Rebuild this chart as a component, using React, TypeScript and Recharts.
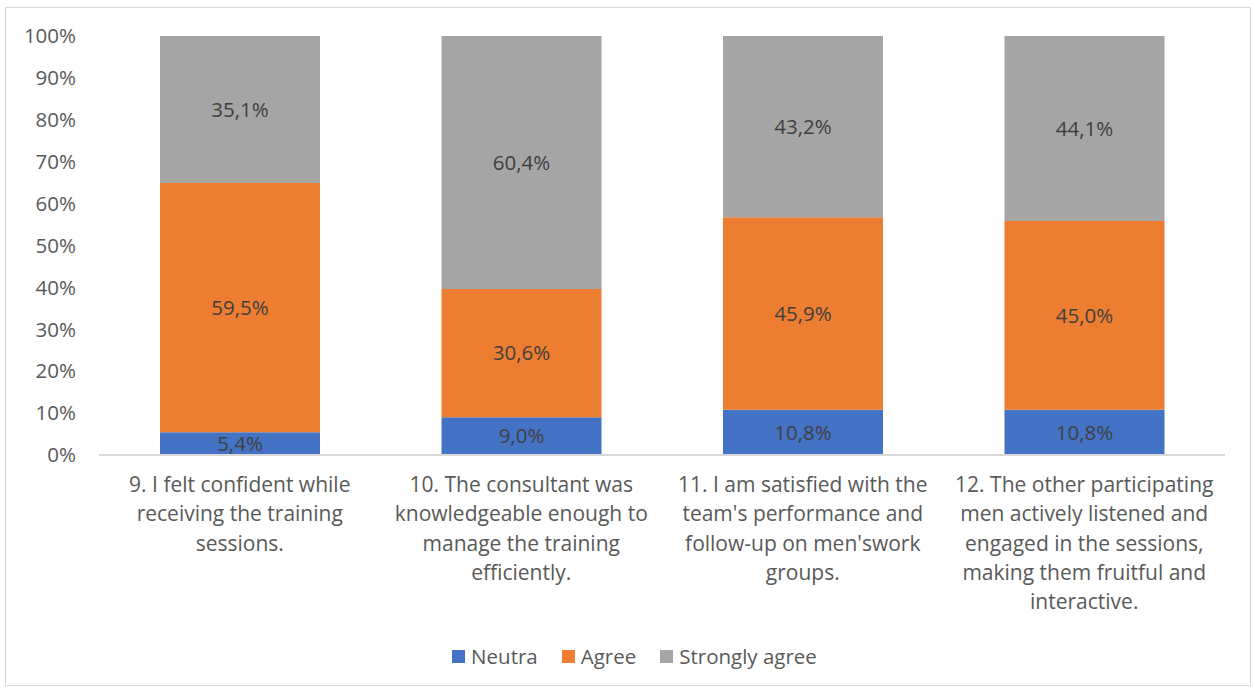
import React from "react";
import { BarChart, Bar, XAxis, YAxis, LabelList, Legend } from "recharts";

const categories: string[][] = [
  ["9. I felt confident while", "receiving the training", "sessions."],
  ["10. The consultant was", "knowledgeable enough to", "manage the training", "efficiently."],
  ["11. I am satisfied with the", "team's performance and", "follow-up on men'swork", "groups."],
  ["12. The other participating", "men actively listened and", "engaged in the sessions,", "making them fruitful and", "interactive."],
];
const neutra = [5.4, 9.0, 10.8, 10.8];
const agree = [59.5, 30.6, 45.9, 45.0];
const stronglyAgree = [35.1, 60.4, 43.2, 44.1];
const seriesNames = ["Neutra", "Agree", "Strongly agree"];
const yTicks = [0, 0.1, 0.2, 0.3, 0.4, 0.5, 0.6, 0.7, 0.8, 0.9, 1];

const data = categories.map((lines, i) => ({
  name: String(i),
  lines,
  neutra: neutra[i],
  agree: agree[i],
  strongly: stronglyAgree[i],
}));

const FONT = "'Open Sans', sans-serif";
const FS = 20.5;
const fmt = (v: any) => `${Number(v).toFixed(1).replace(".", ",")}%`;

const XTick = (props: any) => {
  const { x, y, payload } = props;
  const lines = categories[Number(payload.value)] || [];
  return (
    <text x={x} y={y} textAnchor="middle" fill="#595959" fontSize={21} fontFamily={FONT}>
      {lines.map((l, i) => (
        <tspan key={i} x={x} dy={i === 0 ? 29 : 29.3}>
          {l}
        </tspan>
      ))}
    </text>
  );
};

const LegendContent = (props: any) => {
  const payload = [...(props.payload || [])].sort(
    (a: any, b: any) => seriesNames.indexOf(a.value) - seriesNames.indexOf(b.value)
  );
  return (
    <div style={{ height: 40, display: "flex", justifyContent: "center", alignItems: "center", fontFamily: FONT, fontSize: FS, color: "#595959" }}>
      {payload.map((p: any, i: number) => (
        <div key={i} style={{ display: "flex", alignItems: "center", marginLeft: i === 0 ? 0 : 24 }}>
          <div style={{ width: 13, height: 13, background: p.color, marginRight: 6 }} />
          <span>{p.value}</span>
        </div>
      ))}
    </div>
  );
};

export default function App() {
  return (
    <div style={{ position: "absolute", left: 0, top: 0, width: 1255, height: 689, background: "#fff" }}>
      <div style={{ position: "absolute", left: 5, top: 7, width: 1246, height: 679, border: "1px solid #d9d9d9", boxSizing: "border-box" }} />
      <BarChart
        width={1255}
        height={689}
        data={data}
        stackOffset="expand"
        margin={{ top: 36, right: 30, left: 0, bottom: 0 }}
        barSize={160}
      >
        <YAxis
          width={99}
          ticks={yTicks}
          domain={[0, 1]}
          tickFormatter={(v: number) => `${Math.round(v * 100)}%`}
          axisLine={false}
          tickLine={false}
          tickSize={0}
          tickMargin={23}
          tick={{ fill: "#595959", fontSize: FS, fontFamily: FONT }}
        />
        <XAxis
          dataKey="name"
          height={194}
          axisLine={{ stroke: "#d9d9d9", strokeWidth: 2 }}
          tickLine={false}
          interval={0}
          tick={<XTick />}
        />
        <Legend verticalAlign="bottom" wrapperStyle={{ bottom: 13, left: 22, width: 1225 }} content={<LegendContent />} />
        <Bar dataKey="neutra" name="Neutra" stackId="a" fill="#4472C4" isAnimationActive={false}>
          <LabelList dataKey="neutra" position="center" formatter={fmt} fill="#404040" fontSize={FS} fontFamily={FONT} />
        </Bar>
        <Bar dataKey="agree" name="Agree" stackId="a" fill="#ED7D31" isAnimationActive={false}>
          <LabelList dataKey="agree" position="center" formatter={fmt} fill="#404040" fontSize={FS} fontFamily={FONT} />
        </Bar>
        <Bar dataKey="strongly" name="Strongly agree" stackId="a" fill="#A5A5A5" isAnimationActive={false}>
          <LabelList dataKey="strongly" position="center" formatter={fmt} fill="#404040" fontSize={FS} fontFamily={FONT} />
        </Bar>
      </BarChart>
    </div>
  );
}
